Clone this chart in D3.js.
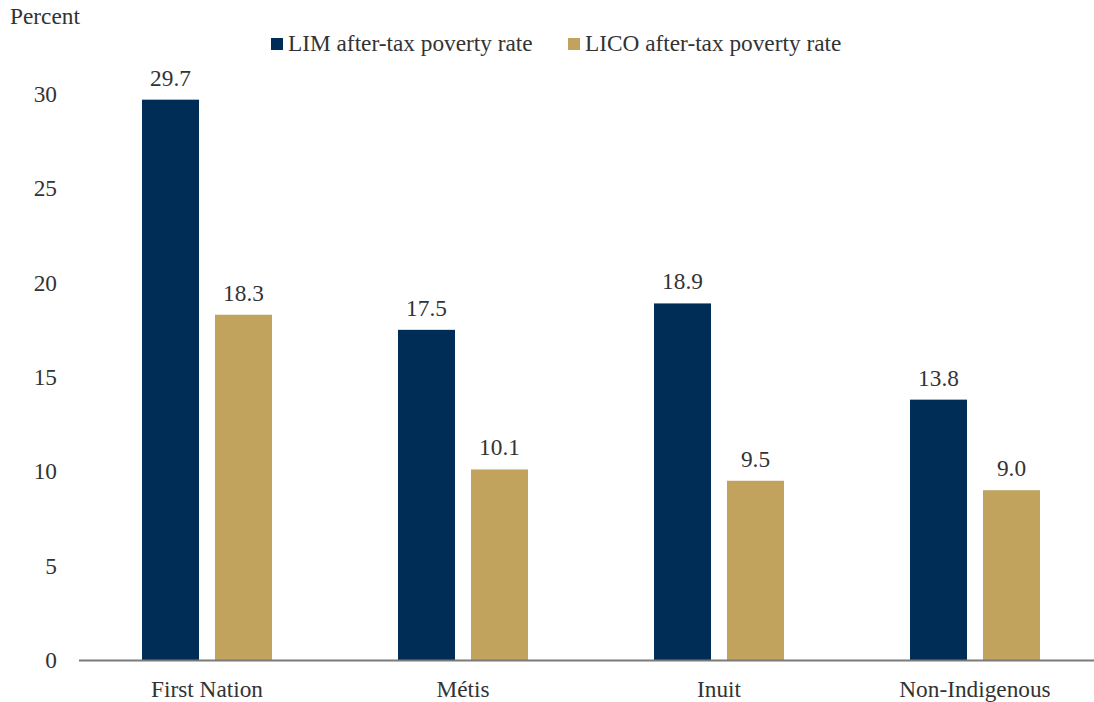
<!DOCTYPE html>
<html><head><meta charset="utf-8">
<script src="https://cdn.jsdelivr.net/npm/d3@7"></script>
<style>
body{margin:0;background:#fff;}
text{font-family:"Liberation Serif","Times New Roman",serif;fill:#333;}
</style></head>
<body><svg id="c" width="1094" height="702"></svg>
<script>
const categories = ["First Nation","Métis","Inuit","Non-Indigenous"];
const seriesNames = ["LIM after-tax poverty rate","LICO after-tax poverty rate"];
const limValues = [29.7,17.5,18.9,13.8];
const licoValues = [18.3,10.1,9.5,9.0];
const yTicks = [0,5,10,15,20,25,30];
const colors = ["#002D56","#C1A35E"];

const svg = d3.select("#c");
const x = d3.scaleBand().domain(categories).range([79,1103]);
const y = d3.scaleLinear().domain([0,30]).range([660,94]);
const inner = d3.scaleBand().domain([0,1]).range([-65,65]).paddingInner(16/73);

const fs = 23.3;
// y tick labels
svg.append("g").selectAll("text").data(yTicks).join("text")
  .attr("x",57).attr("y",d=>y(d)).attr("dy","0.35em").attr("text-anchor","end")
  .attr("font-size",fs).text(d=>d);
svg.append("text").attr("x",10).attr("y",24).attr("font-size",fs).text("Percent");

const data = categories.map((c,i)=>({c,vals:[limValues[i],licoValues[i]]}));
const g = svg.append("g");
data.forEach(d=>{
  d.vals.forEach((v,j)=>{
    const cx = x(d.c)+x.bandwidth()/2;
    g.append("rect").attr("x",cx+inner(j)).attr("width",inner.bandwidth())
      .attr("y",y(v)).attr("height",y(0)-y(v)).attr("fill",colors[j]);
    g.append("text").attr("x",cx+inner(j)+inner.bandwidth()/2).attr("y",y(v)-14)
      .attr("text-anchor","middle").attr("font-size",fs).text(v.toFixed(1));
  });
});
// axis line
svg.append("line").attr("x1",79).attr("x2",1094).attr("y1",660.5).attr("y2",660.5)
  .attr("stroke","#7a7a7a").attr("stroke-width",2);
// category labels
svg.append("g").selectAll("text").data(categories).join("text")
  .attr("x",d=>x(d)+x.bandwidth()/2).attr("y",697).attr("text-anchor","middle")
  .attr("font-size",fs).text(d=>d);
// legend
const legX = [271,568];
seriesNames.forEach((s,i)=>{
  svg.append("rect").attr("x",legX[i]).attr("y",38).attr("width",12).attr("height",12).attr("fill",colors[i]);
  svg.append("text").attr("x",legX[i]+17).attr("y",51).attr("font-size",fs).text(s);
});
</script></body></html>
